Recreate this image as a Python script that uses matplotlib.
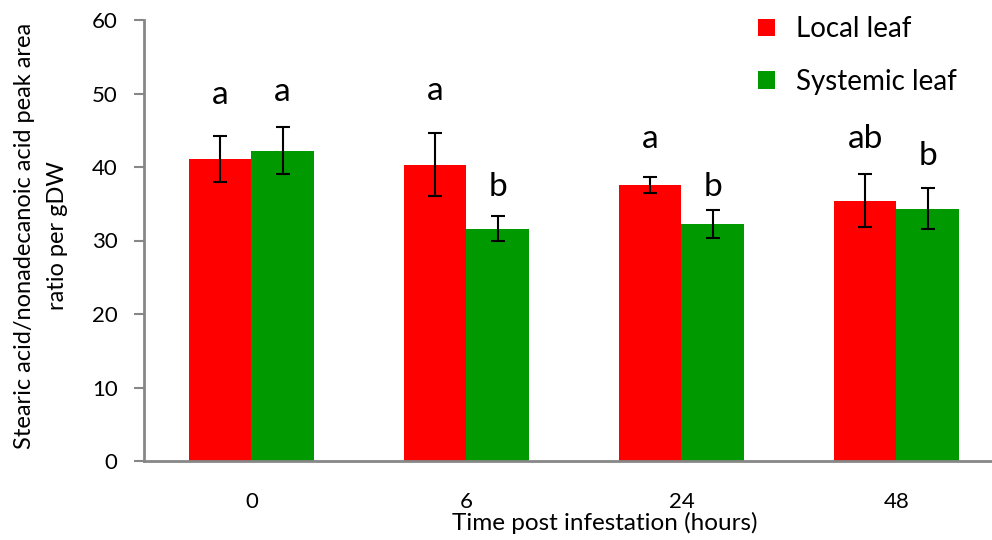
import numpy as np
import matplotlib
matplotlib.use("Agg")
import matplotlib.pyplot as plt

plt.rcParams['font.family'] = ['Lato', 'DejaVu Sans']

# Data
times = ["0", "6", "24", "48"]
local_mean = [41.1, 40.3, 37.6, 35.4]
local_err = [3.1, 4.3, 1.1, 3.6]
systemic_mean = [42.2, 31.6, 32.2, 34.3]
systemic_err = [3.2, 1.7, 1.9, 2.8]
local_letters = ["a", "a", "a", "ab"]
systemic_letters = ["a", "b", "b", "b"]
local_letter_y = [48.6, 49.1, 42.6, 42.6]
systemic_letter_y = [49.0, 36.0, 36.0, 40.3]

RED = "#ff0000"
GREEN = "#009900"
AXIS_GREY = "#878787"

fig = plt.figure(figsize=(9.92, 5.40), dpi=100)
ax = fig.add_axes([144 / 992, 1 - 461 / 540, 1 - 144 / 992, (461 - 20) / 540])

x = np.arange(len(times))
w = 0.29
ekw = dict(ecolor="black", elinewidth=1.5, capsize=5, capthick=1.5)
ax.bar(x - w / 2, local_mean, w, color=RED, yerr=local_err, error_kw=ekw, label="Local leaf")
ax.bar(x + w / 2, systemic_mean, w, color=GREEN, yerr=systemic_err, error_kw=ekw, label="Systemic leaf")

for xi, lab, yy in zip(x - w / 2, local_letters, local_letter_y):
    ax.text(xi, yy, lab, ha="center", va="baseline", fontsize=24)
for xi, lab, yy in zip(x + w / 2, systemic_letters, systemic_letter_y):
    ax.text(xi, yy, lab, ha="center", va="baseline", fontsize=24)

ax.set_xlim(-0.5, 3.445)
ax.set_ylim(0, 60)
ax.set_yticks(np.arange(0, 61, 10))
ax.set_xticks(x)
ax.set_xticklabels(times)
ax.tick_params(axis="x", length=0, pad=22, labelsize=16)
ax.tick_params(axis="y", length=7, width=1.5, color=AXIS_GREY, direction="out", pad=12, labelsize=16)

for s in ["top", "right"]:
    ax.spines[s].set_visible(False)
for s in ["left", "bottom"]:
    ax.spines[s].set_color(AXIS_GREY)
    ax.spines[s].set_linewidth(2)

ax.set_xlabel("Time post infestation (hours)", fontsize=17.5)
ax.xaxis.set_label_coords((605 - 144) / 848, -(523 - 461) / 441, transform=ax.transAxes)
ax.xaxis.label.set_va("center")
ax.set_ylabel("Stearic acid/nonadecanoic acid peak area\nratio per gDW", fontsize=17,
              linespacing=1.75)
ax.yaxis.set_label_coords(-(144 - 41) / 848, (461 - 236) / 441, transform=ax.transAxes)
ax.yaxis.label.set_va("center")

leg = ax.legend(loc="upper left", bbox_to_anchor=(0.695, 1.065), frameon=False, fontsize=20,
                handlelength=0.6, handleheight=0.6, handletextpad=0.75, labelspacing=0.95)

fig.savefig("out.png", dpi=100)
